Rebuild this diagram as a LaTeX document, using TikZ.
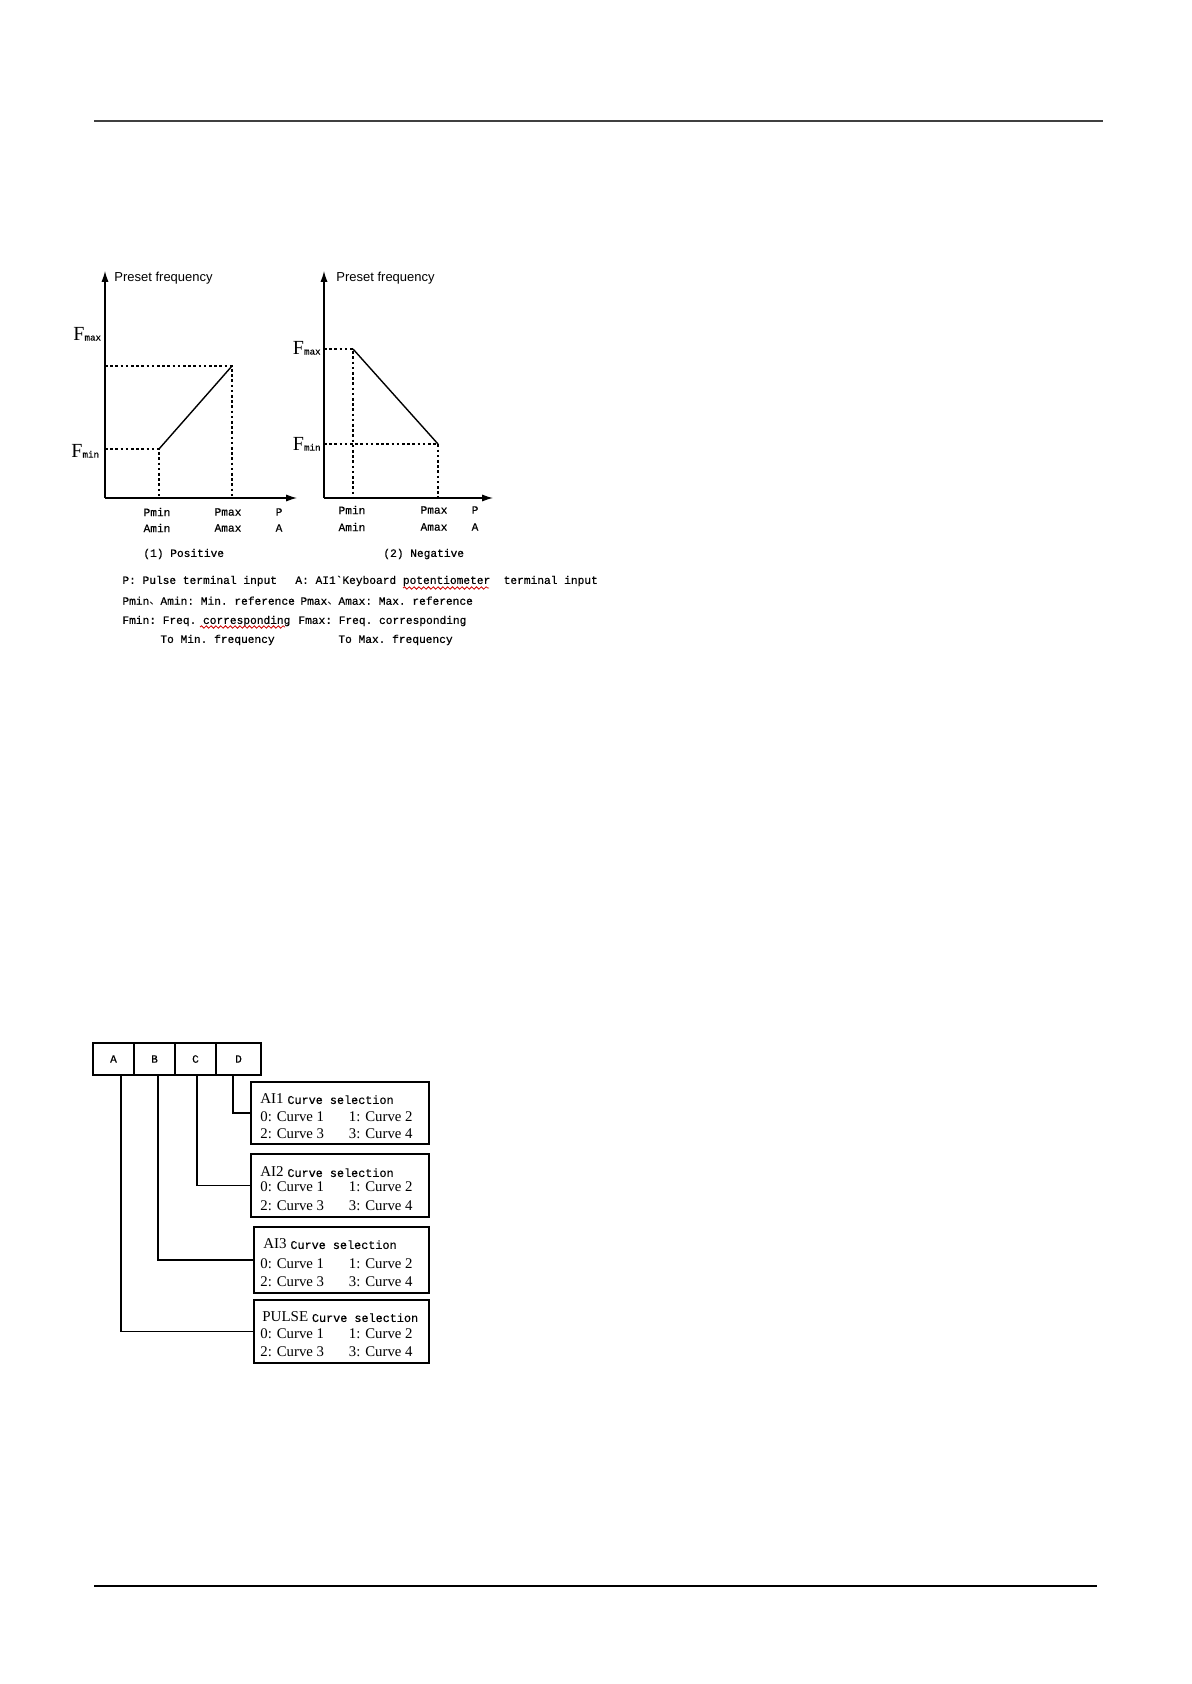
\documentclass[tikz,border=0pt]{standalone}
\usepackage{fontspec}
\setmainfont{Liberation Serif}
\setsansfont{Liberation Sans}
\setmonofont[FakeBold=0.5]{Liberation Mono}
\newfontfamily\cjk{Noto Sans CJK SC}
\usetikzlibrary{arrows.meta}
\usetikzlibrary{decorations.pathmorphing}
\newcommand\mono[0]{\ttfamily\fontsize{5.6}{6.7}\selectfont}
\newcommand\fval[1]{{\fontsize{10}{10}\selectfont F}{\ttfamily\fontsize{4.6}{4.6}\selectfont #1}}
\newcommand\dun[0]{{\cjk\fontsize{5.6}{6.7}\selectfont 、}}
\newcommand\sel[1]{{\fontsize{7.5}{8}\selectfont #1} {\ttfamily\fontsize{5.9}{7}\selectfont Curve selection}}

\begin{document}
\begin{tikzpicture}[x=0.5pt,y=-0.5pt,
  axis/.style={line width=0.6pt,-{Latex[length=5.5pt,width=3.6pt]}},
  guide/.style={line width=0.6pt,dash pattern=on 1.3pt off 1.3pt},
  curve/.style={line width=0.7pt},
  lbl/.style={inner sep=0pt,font=\mono},
  ytitle/.style={inner sep=0pt,anchor=west,font=\sffamily\fontsize{6.5}{7}\selectfont},
  cell/.style={draw,line width=0.8pt,minimum width=20.5pt,minimum height=16pt,inner sep=0pt,font=\mono},
  selbox/.style={draw,line width=0.8pt,minimum width=87.5pt,minimum height=31.5pt,inner sep=0pt},
  opt/.style={inner sep=0pt,font=\fontsize{7.4}{8}\selectfont},
  link/.style={line width=0.8pt},
  wavy/.style={red!80!black,line width=0.4pt,decorate,decoration={snake,amplitude=0.6pt,segment length=2.4pt}}]

\useasboundingbox (0,0) rectangle (1191,1684);

% page rules
\draw[line width=1pt,black!75] (94,121) -- (1103,121);
\draw[line width=0.8pt] (94,1586) -- (1097,1586);

% (1) positive
\coordinate (O1) at (105,498);
\coordinate (Y1) at (105,271);
\coordinate (X1) at (297,498);
\coordinate (L1) at (159,449);
\coordinate (H1) at (232,366);

\draw[axis] (O1) -- (Y1);
\draw[axis] (O1) -- (X1);
\draw[guide] (O1 |- L1) -- (L1) -- (L1 |- O1);
\draw[guide] (O1 |- H1) -- (H1) -- (H1 |- O1);
\draw[curve] (L1) -- (H1);

\node[ytitle] (pf1) at (114,278) {Preset frequency};
\node[inner sep=0pt,anchor=west] (fmax1) at (73,334) {\fval{max}};
\node[inner sep=0pt,anchor=west] (fmin1) at (71,451) {\fval{min}};
\node[lbl] (pmin1) at (157,512) {Pmin};
\node[lbl] (amin1) at (157,528) {Amin};
\node[lbl] (pmax1) at (228,512) {Pmax};
\node[lbl] (amax1) at (228,528) {Amax};
\node[lbl] (p1) at (279,512) {P};
\node[lbl] (a1) at (279,528) {A};

% (2) negative
\coordinate (O2) at (324,498);
\coordinate (Y2) at (324,271);
\coordinate (X2) at (493,498);
\coordinate (H2) at (353,349);
\coordinate (L2) at (438,444);

\draw[axis] (O2) -- (Y2);
\draw[axis] (O2) -- (X2);
\draw[guide] (O2 |- H2) -- (H2) -- (H2 |- O2);
\draw[guide] (O2 |- L2) -- (L2) -- (L2 |- O2);
\draw[curve] (H2) -- (L2);

\node[ytitle] (pf2) at (336,278) {Preset frequency};
\node[inner sep=0pt,anchor=east] (fmax2) at (321,348) {\fval{max}};
\node[inner sep=0pt,anchor=east] (fmin2) at (321,444) {\fval{min}};
\node[lbl] (pmin2) at (352,510) {Pmin};
\node[lbl] (amin2) at (352,527) {Amin};
\node[lbl] (pmax2) at (434,510) {Pmax};
\node[lbl] (amax2) at (434,527) {Amax};
\node[lbl] (p2) at (475,510) {P};
\node[lbl] (a2) at (475,527) {A};

% captions and notes
\node[lbl,anchor=west] (pos) at (143,554) {(1) Positive};
\node[lbl,anchor=west] (neg) at (383,554) {(2) Negative};
\node[lbl,anchor=west] (n1) at (122,581) {P: Pulse terminal input};
\node[lbl,anchor=west] (n2) at (295,581) {A: AI1\textasciigrave Keyboard potentiometer\ \ terminal input};
\node[lbl,anchor=west] (n3) at (122,601) {Pmin\dun Amin: Min. reference};
\node[lbl,anchor=west] (n4) at (300,601) {Pmax\dun Amax: Max. reference};
\node[lbl,anchor=west] (n5) at (122,621) {Fmin: Freq. corresponding};
\node[lbl,anchor=west] (n6) at (160,640) {To Min. frequency};
\node[lbl,anchor=west] (n7) at (298,621) {Fmax: Freq. corresponding};
\node[lbl,anchor=west] (n8) at (338,640) {To Max. frequency};
\draw[wavy] (403,588) -- (489,588);
\draw[wavy] (200,627) -- (285,627);

% code digits
\node[cell] (ca) at (113.5,1059) {A};
\node[cell] (cb) at (154.5,1059) {B};
\node[cell] (cc) at (195.5,1059) {C};
\node[cell,minimum width=22.5pt] (cd) at (238.5,1059) {D};

% selection boxes
\node[selbox,minimum width=89pt,minimum height=31pt] (ai1) at (340,1113) {};
\node[selbox,minimum width=89pt] (ai2) at (340,1185.5) {};
\node[selbox,minimum height=33pt] (ai3) at (341.5,1260) {};
\node[selbox] (pulse) at (341.5,1331.5) {};

\node[opt,anchor=west] (ai1t) at (260,1099) {\sel{AI1}};
\node[opt,anchor=west] (ai1a) at (260,1117) {0: Curve 1};
\node[opt,anchor=east] (ai1b) at (413,1117) {1: Curve 2};
\node[opt,anchor=west] (ai1c) at (260,1134) {2: Curve 3};
\node[opt,anchor=east] (ai1d) at (413,1134) {3: Curve 4};

\node[opt,anchor=west] (ai2t) at (260,1172) {\sel{AI2}};
\node[opt,anchor=west] (ai2a) at (260,1187) {0: Curve 1};
\node[opt,anchor=east] (ai2b) at (413,1187) {1: Curve 2};
\node[opt,anchor=west] (ai2c) at (260,1206) {2: Curve 3};
\node[opt,anchor=east] (ai2d) at (413,1206) {3: Curve 4};

\node[opt,anchor=west] (ai3t) at (263,1244) {\sel{AI3}};
\node[opt,anchor=west] (ai3a) at (260,1264) {0: Curve 1};
\node[opt,anchor=east] (ai3b) at (413,1264) {1: Curve 2};
\node[opt,anchor=west] (ai3c) at (260,1282) {2: Curve 3};
\node[opt,anchor=east] (ai3d) at (413,1282) {3: Curve 4};

\node[opt,anchor=west] (pulset) at (262,1317) {\sel{PULSE}};
\node[opt,anchor=west] (pulsea) at (260,1334) {0: Curve 1};
\node[opt,anchor=east] (pulseb) at (413,1334) {1: Curve 2};
\node[opt,anchor=west] (pulsec) at (260,1352) {2: Curve 3};
\node[opt,anchor=east] (pulsed) at (413,1352) {3: Curve 4};

\draw[link] ([xshift=-2.75pt]cd.south) |- (ai1.west);
\draw[link] ([xshift=0.75pt]cc.south) |- (ai2.west);
\draw[link] ([xshift=1.75pt]cb.south) |- (ai3.west);
\draw[link] ([xshift=3.75pt]ca.south) |- (pulse.west);

\end{tikzpicture}
\end{document}
